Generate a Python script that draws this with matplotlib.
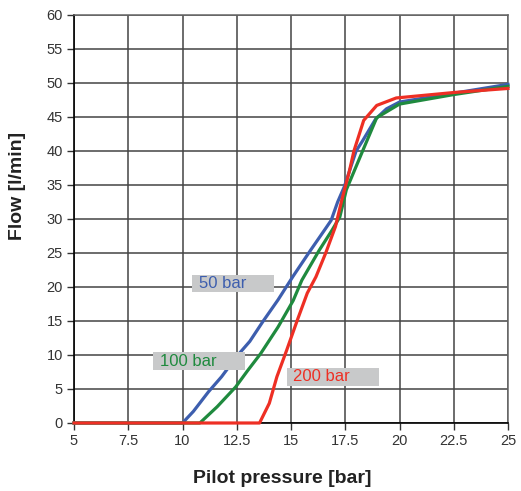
import matplotlib
matplotlib.use("Agg")
import matplotlib.pyplot as plt

plt.rcParams['font.family'] = ['Liberation Sans', 'DejaVu Sans']

# 50 bar
x50 = [5, 10.0, 10.5, 11.2, 11.8, 12.5, 13.1, 13.7, 14.4, 15.1, 15.9, 16.55, 16.85, 17.15, 17.45, 18.0, 18.3, 18.9, 19.4, 20.0, 22.5, 25.0]
y50 = [0, 0, 1.7, 4.6, 6.8, 9.8, 12.0, 14.9, 18.1, 21.6, 25.4, 28.4, 29.8, 32.5, 34.7, 40.0, 41.5, 44.7, 46.2, 47.2, 48.5, 49.8]
# 100 bar
x100 = [5, 10.8, 11.6, 12.45, 13.0, 13.6, 14.4, 15.1, 15.5, 16.3, 16.9, 17.25, 17.55, 18.3, 18.95, 20.0, 22.5, 25.0]
y100 = [0, 0, 2.4, 5.3, 7.7, 10.2, 14.1, 18.0, 21.0, 25.4, 28.4, 30.3, 34.3, 40.0, 44.9, 46.9, 48.3, 49.5]
# 200 bar
x200 = [5, 13.55, 14.0, 14.35, 14.8, 15.3, 15.75, 16.15, 16.6, 17.05, 17.35, 17.68, 17.9, 17.98, 18.35, 18.95, 19.85, 22.5, 25.0]
y200 = [0, 0, 2.9, 6.8, 10.7, 15.2, 19.1, 21.5, 25.0, 28.9, 32.9, 36.9, 40.0, 40.8, 44.5, 46.7, 47.8, 48.6, 49.2]

xticks = [5, 7.5, 10, 12.5, 15, 17.5, 20, 22.5, 25]
xticklabels = ['5', '7.5', '10', '12.5', '15', '17.5', '20', '22.5', '25']
yticks = list(range(0, 61, 5))

fig = plt.figure(figsize=(5.21, 4.91), dpi=100)
ax = fig.add_axes([74/521, 1 - 423/491, (508-74)/521, (423-15)/491])

ax.set_xlim(5, 25)
ax.set_ylim(0, 60)
ax.set_xticks(xticks)
ax.set_xticklabels(xticklabels)
ax.set_yticks(yticks)
ax.grid(True, color='#444444', linewidth=1.1)
ax.set_axisbelow(True)
for s in ['top', 'right']:
    ax.spines[s].set_color('#666666')
    ax.spines[s].set_linewidth(1.1)
for s in ['left', 'bottom']:
    ax.spines[s].set_color('black')
    ax.spines[s].set_linewidth(1.2)
ax.tick_params(axis='both', direction='out', length=5, width=1, color='#333333',
               labelsize=10.5, labelcolor='#333333', pad=3)

blue = '#3d5eae'
green = '#1f8a3e'
red = '#ee2f24'
ax.plot(x50, y50, color=blue, linewidth=2.3, clip_on=False, zorder=3)
ax.plot(x100, y100, color=green, linewidth=2.3, clip_on=False, zorder=4)
ax.plot(x200, y200, color=red, linewidth=2.3, clip_on=False, zorder=5)

def label(x0, x1, y0, y1, txt, col):
    ax.add_patch(plt.Rectangle((x0, y0), x1 - x0, y1 - y0, facecolor='#c8c9ca',
                               edgecolor='none', zorder=6))
    ax.text(x0 + 0.3, (y0 + y1) / 2, txt, color=col, fontsize=12,
            va='center', ha='left', zorder=7)

label(10.45, 14.2, 19.3, 21.8, '50 bar', blue)
label(8.65, 12.9, 7.8, 10.4, '100 bar', green)
label(14.8, 19.05, 5.5, 8.1, '200 bar', red)

ax.set_xlabel('Pilot pressure [bar]', fontsize=14, fontweight='bold', color='#222222', va='center')
ax.xaxis.set_label_coords(0.479, -0.135)
ax.set_ylabel('Flow [l/min]', fontsize=14, fontweight='bold', color='#222222', va='center')
ax.yaxis.set_label_coords(-0.13, 0.581)

fig.savefig('out.png', dpi=100)
